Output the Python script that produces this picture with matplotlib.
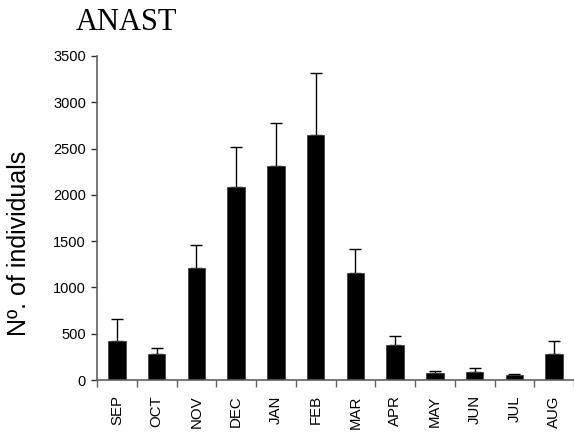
import matplotlib
matplotlib.use("Agg")
import matplotlib.pyplot as plt
import numpy as np

months = ["SEP", "OCT", "NOV", "DEC", "JAN", "FEB", "MAR", "APR", "MAY", "JUN", "JUL", "AUG"]
means = [421, 277, 1206, 2081, 2308, 2643, 1152, 378, 72, 83, 51, 277]
err_tops = [659, 342, 1458, 2516, 2779, 3312, 1415, 478, 94, 133, 68, 418]
yticks = [0, 500, 1000, 1500, 2000, 2500, 3000, 3500]

errs = [t - m for t, m in zip(err_tops, means)]

fig = plt.figure(figsize=(5.74, 4.32), dpi=100)
ax = fig.add_axes([97/574, 1 - 380/432, (574 - 97)/574, (380 - 56)/432])

x = np.arange(len(months))
ax.bar(x, means, width=0.44, color="black", edgecolor="#404040", linewidth=0.6, zorder=2)
ax.errorbar(x, means, yerr=[np.zeros(len(errs)), errs], fmt="none", ecolor="black",
            elinewidth=1.0, capsize=4, capthick=1.0, zorder=1)

ax.set_xlim(-0.5, len(months) - 0.5)
ax.set_ylim(0, 3500)
ax.set_yticks(yticks)
ax.set_yticklabels([str(v) for v in yticks], fontsize=10.5, family="Liberation Sans")
ax.set_xticks(np.arange(-0.5, len(months), 1.0))
ax.set_xticklabels([])
ax.set_xticks(x, minor=True)
ax.set_xticklabels(months, minor=True, rotation=90, fontsize=10.8, family="Liberation Sans")
ax.tick_params(axis="x", which="minor", length=0, pad=11)
ax.tick_params(axis="x", which="major", length=5, direction="out", color="#606060", width=1)
ax.tick_params(axis="y", length=4, direction="out", color="#303030", width=1, pad=4)

for s in ["top", "right"]:
    ax.spines[s].set_visible(False)
ax.spines["left"].set_color("#606060")
ax.spines["bottom"].set_color("#606060")
ax.spines["left"].set_linewidth(1.2)
ax.spines["bottom"].set_linewidth(1.2)

fig.text(19/574, 1 - 243/432, "Nº. of individuals", rotation=90, ha="center", va="center",
         fontsize=18, family="Liberation Sans")
fig.text(126/574, 1 - 22/432, "ANAST", ha="center", va="center", fontsize=22,
         family="Liberation Serif")

fig.savefig("out.png", dpi=100)
